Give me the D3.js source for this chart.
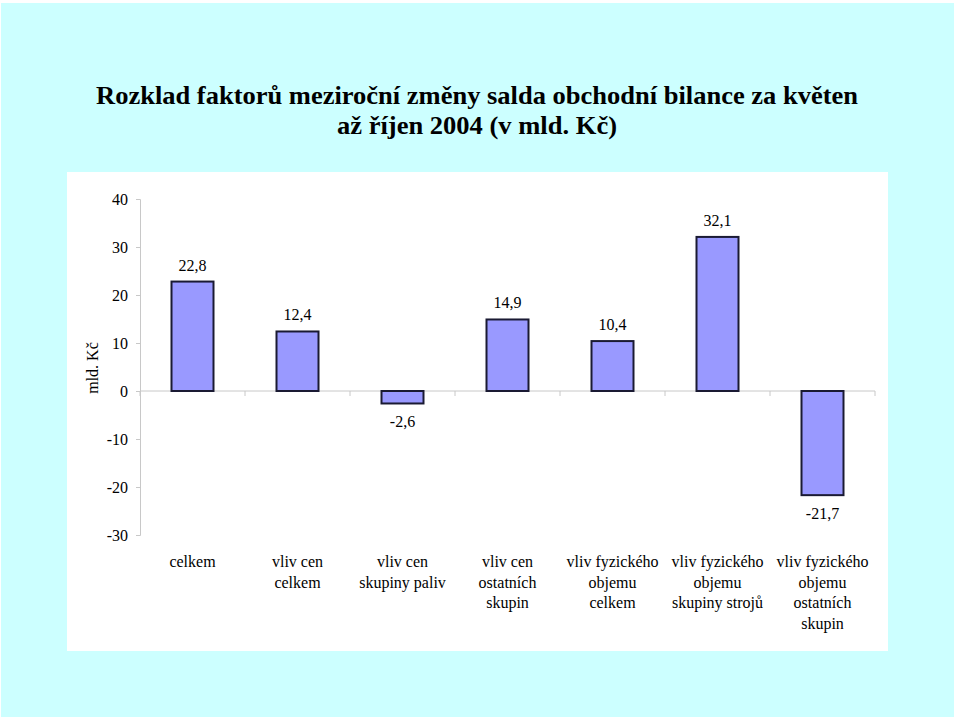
<!DOCTYPE html>
<html>
<head>
<meta charset="utf-8">
<script src="https://cdn.jsdelivr.net/npm/d3@7"></script>
</head>
<body style="margin:0; background:#fff">
<div id="chart"></div>
<script>
'use strict';

// category labels (one array per label line)
const categories = [
    ['celkem'],
    ['vliv cen', 'celkem'],
    ['vliv cen', 'skupiny paliv'],
    ['vliv cen', 'ostatních', 'skupin'],
    ['vliv fyzického', 'objemu', 'celkem'],
    ['vliv fyzického', 'objemu', 'skupiny strojů'],
    ['vliv fyzického', 'objemu', 'ostatních', 'skupin']
];
const values = [22.8, 12.4, -2.6, 14.9, 10.4, 32.1, -21.7];
const yTicks = [40, 30, 20, 10, 0, -10, -20, -30];
const titleLines = ['Rozklad faktorů meziroční změny salda obchodní bilance za květen',
                    'až říjen 2004 (v mld. Kč)'];

const width = 960;
const height = 720;
const serif = '"Liberation Serif"';

let svg = d3.select('#chart')
    .append('svg')
    .attr('width', width)
    .attr('height', height)
    .style('font-family', serif);

// cyan slide background
svg.append('rect')
    .attr('x', 1).attr('y', 3)
    .attr('width', 953).attr('height', 714)
    .attr('fill', '#ccffff');

// white plot panel
svg.append('rect')
    .attr('x', 67).attr('y', 172)
    .attr('width', 821).attr('height', 479)
    .attr('fill', '#ffffff');

// title
svg.selectAll('text.title')
    .data(titleLines)
    .enter()
    .append('text')
    .attr('class', 'title')
    .attr('x', 477)
    .attr('y', (d, i) => 104 + i * 30)
    .attr('text-anchor', 'middle')
    .style('font-family', serif)
    .style('font-size', '26px')
    .style('font-weight', 'bold')
    .attr('textLength', (d, i) => i === 0 ? 762 : 280)
    .attr('lengthAdjust', 'spacingAndGlyphs')
    .text(d => d);

// scales
let x = d3.scaleBand()
    .domain(d3.range(categories.length))
    .range([140, 875]);

let y = d3.scaleLinear()
    .domain([-30, 40])
    .range([535, 199]);

// y axis
let yAxis = d3.axisLeft(y)
    .tickValues(yTicks)
    .tickSize(4)
    .tickPadding(8)
    .tickFormat(d => String(d));

let gY = svg.append('g')
    .attr('transform', 'translate(140,0)')
    .call(yAxis)
    .attr('font-family', null);
gY.select('.domain').attr('stroke', '#c8c8c8');
gY.selectAll('.tick line').attr('stroke', '#c8c8c8');
gY.selectAll('.tick text')
    .style('font-size', '16px')
    .style('font-family', serif)
    .attr('fill', '#000');

// zero line with category separators
svg.append('line')
    .attr('x1', 140).attr('x2', 875)
    .attr('y1', y(0)).attr('y2', y(0))
    .attr('stroke', '#c8c8c8');

svg.selectAll('line.sep')
    .data(d3.range(categories.length + 1))
    .enter()
    .append('line')
    .attr('class', 'sep')
    .attr('x1', i => i < categories.length ? x(i) : x.range()[1])
    .attr('x2', i => i < categories.length ? x(i) : x.range()[1])
    .attr('y1', y(0))
    .attr('y2', y(0) + 5)
    .attr('stroke', '#c8c8c8');

// y axis title
svg.append('text')
    .attr('transform', 'translate(98,368) rotate(-90)')
    .attr('text-anchor', 'middle')
    .style('font-family', serif)
    .style('font-size', '16px')
    .text('mld. Kč');

// bars
let barW = x.bandwidth() * 0.4;
svg.selectAll('rect.bar')
    .data(values)
    .enter()
    .append('rect')
    .attr('class', 'bar')
    .attr('x', (d, i) => x(i) + (x.bandwidth() - barW) / 2)
    .attr('y', d => y(Math.max(0, d)))
    .attr('width', barW)
    .attr('height', d => Math.abs(y(d) - y(0)))
    .attr('fill', '#9999ff')
    .attr('stroke', '#1a1a33')
    .attr('stroke-width', 2);

// value labels
svg.selectAll('text.val')
    .data(values)
    .enter()
    .append('text')
    .attr('class', 'val')
    .attr('x', (d, i) => x(i) + x.bandwidth() / 2)
    .attr('y', d => d >= 0 ? y(d) - 11 : y(d) + 24)
    .attr('text-anchor', 'middle')
    .style('font-family', serif)
    .style('font-size', '16px')
    .text(d => d.toFixed(1).replace('.', ','));

// category labels
let catG = svg.selectAll('g.cat')
    .data(categories)
    .enter()
    .append('g')
    .attr('class', 'cat');

catG.selectAll('text')
    .data((d, i) => d.map(line => ({ line: line, i: i })))
    .enter()
    .append('text')
    .attr('x', d => x(d.i) + x.bandwidth() / 2)
    .attr('y', (d, j) => 567 + j * 20.5)
    .attr('text-anchor', 'middle')
    .style('font-family', serif)
    .style('font-size', '16px')
    .text(d => d.line);
</script>
</body>
</html>
